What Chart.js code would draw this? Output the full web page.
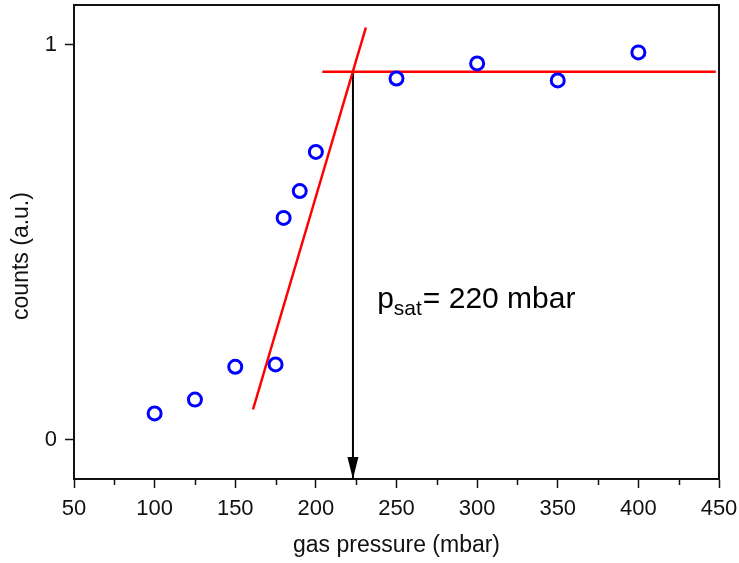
<!DOCTYPE html>
<html><head><meta charset="utf-8">
<script src="https://cdn.jsdelivr.net/npm/chart.js@4"></script>
<style>html,body{margin:0;padding:0;background:#fff}#wrap{width:739px;height:563px}</style>
</head><body><div id="wrap"><canvas id="c" width="739" height="563"></canvas></div>
<script>
const pressure = [100, 125, 150, 175, 180, 190, 200, 250, 300, 350, 400];
const counts   = [0.066, 0.101, 0.184, 0.190, 0.561, 0.629, 0.728, 0.914, 0.952, 0.909, 0.980];
const riseFitX = [161, 231];
const riseFitY = [0.076, 1.043];
const plateauX = [204, 448];
const plateauY = [0.931, 0.931];
const arrowX = [223, 223];
const arrowY = [0.931, -0.1];
const xTicks = [50, 100, 150, 200, 250, 300, 350, 400, 450];
const xMinorTicks = [75, 125, 175, 225, 275, 325, 375, 425];
const yTicks = [0, 1];
const xTitle = 'gas pressure (mbar)';
const yTitle = 'counts (a.u.)';
const noteMain = 'p', noteSub = 'sat', noteRest = '= 220 mbar';

const FONT = "'Liberation Sans', Arial, Helvetica, sans-serif";
const AX = '#111';
const pts = (xs, ys) => xs.map((x, i) => ({x, y: ys[i]}));
const noPad = s => { s.paddingTop = 0; s.paddingBottom = 0; s.paddingLeft = 0; s.paddingRight = 0; };

const extras = {
  id: 'extras',
  afterDraw(chart) {
    const {ctx, chartArea: a, scales: {x, y}} = chart;
    ctx.save();
    ctx.strokeStyle = AX; ctx.lineWidth = 2;
    ctx.beginPath();
    ctx.moveTo(a.left, a.top); ctx.lineTo(a.right, a.top); ctx.lineTo(a.right, a.bottom);
    ctx.stroke();
    ctx.lineWidth = 1.5;
    xMinorTicks.forEach(v => {
      const px = Math.round(x.getPixelForValue(v)) + 0.5;
      ctx.beginPath(); ctx.moveTo(px, a.bottom); ctx.lineTo(px, a.bottom + 6); ctx.stroke();
    });
    const tx = x.getPixelForValue(arrowX[1]), ty = y.getPixelForValue(arrowY[1]);
    ctx.fillStyle = '#000';
    ctx.beginPath(); ctx.moveTo(tx, ty); ctx.lineTo(tx - 5.5, ty - 22); ctx.lineTo(tx + 5.5, ty - 22); ctx.closePath(); ctx.fill();
    // y title
    ctx.save();
    ctx.translate(21.5, (a.top + a.bottom) / 2 + 14);
    ctx.rotate(-Math.PI / 2);
    ctx.font = '23px ' + FONT; ctx.fillStyle = AX; ctx.textAlign = 'center'; ctx.textBaseline = 'middle';
    ctx.fillText(yTitle, 0, 0);
    ctx.restore();
    // annotation
    let nx = x.getPixelForValue(238), ny = y.getPixelForValue(0.332);
    ctx.fillStyle = '#000'; ctx.textBaseline = 'alphabetic'; ctx.textAlign = 'left';
    ctx.font = '30px ' + FONT;
    ctx.fillText(noteMain, nx, ny); nx += ctx.measureText(noteMain).width;
    ctx.font = '21px ' + FONT;
    ctx.fillText(noteSub, nx, ny + 7); nx += ctx.measureText(noteSub).width;
    ctx.font = '30px ' + FONT;
    ctx.fillText(noteRest, nx + 1, ny);
    ctx.restore();
  }
};

new Chart(document.getElementById('c'), {
  type: 'scatter',
  data: {
    datasets: [
      {data: pts(pressure, counts), pointStyle: 'circle', pointRadius: 6.5, pointBorderWidth: 3,
       borderColor: '#0000ff', backgroundColor: 'rgba(0,0,0,0)', pointBackgroundColor: 'rgba(0,0,0,0)', showLine: false},
      {data: pts(riseFitX, riseFitY), showLine: true, borderColor: '#ff0000', borderWidth: 2.5, pointRadius: 0},
      {data: pts(plateauX, plateauY), showLine: true, borderColor: '#ff0000', borderWidth: 2.5, pointRadius: 0},
      {data: pts(arrowX, arrowY), showLine: true, borderColor: '#000', borderWidth: 2, pointRadius: 0}
    ]
  },
  options: {
    responsive: false, animation: false, devicePixelRatio: 1,
    layout: {autoPadding: false, padding: {top: 5, right: 20, left: 0, bottom: 0}},
    plugins: {legend: {display: false}, tooltip: {enabled: false}},
    scales: {
      x: {
        type: 'linear', min: 50, max: 450,
        afterBuildTicks: s => { s.ticks = xTicks.map(v => ({value: v})); },
        afterFit: s => { s.height = 84; noPad(s); },
        ticks: {font: {family: FONT, size: 22}, color: AX, padding: 8, maxRotation: 0, autoSkip: false},
        grid: {drawOnChartArea: false, drawTicks: true, tickLength: 9, tickColor: AX, tickWidth: 1.5},
        border: {display: true, color: AX, width: 2},
        title: {display: true, text: xTitle, font: {family: FONT, size: 23}, color: AX, padding: {top: 0, bottom: 4}}
      },
      y: {
        type: 'linear', min: -0.1, max: 1.1,
        afterBuildTicks: s => { s.ticks = yTicks.map(v => ({value: v})); },
        afterFit: s => { s.width = 74; noPad(s); },
        ticks: {font: {family: FONT, size: 22}, color: AX, padding: 8},
        grid: {drawOnChartArea: false, drawTicks: true, tickLength: 9, tickColor: AX, tickWidth: 1.5},
        border: {display: true, color: AX, width: 2},
        title: {display: false}
      }
    }
  },
  plugins: [extras]
});
</script></body></html>
